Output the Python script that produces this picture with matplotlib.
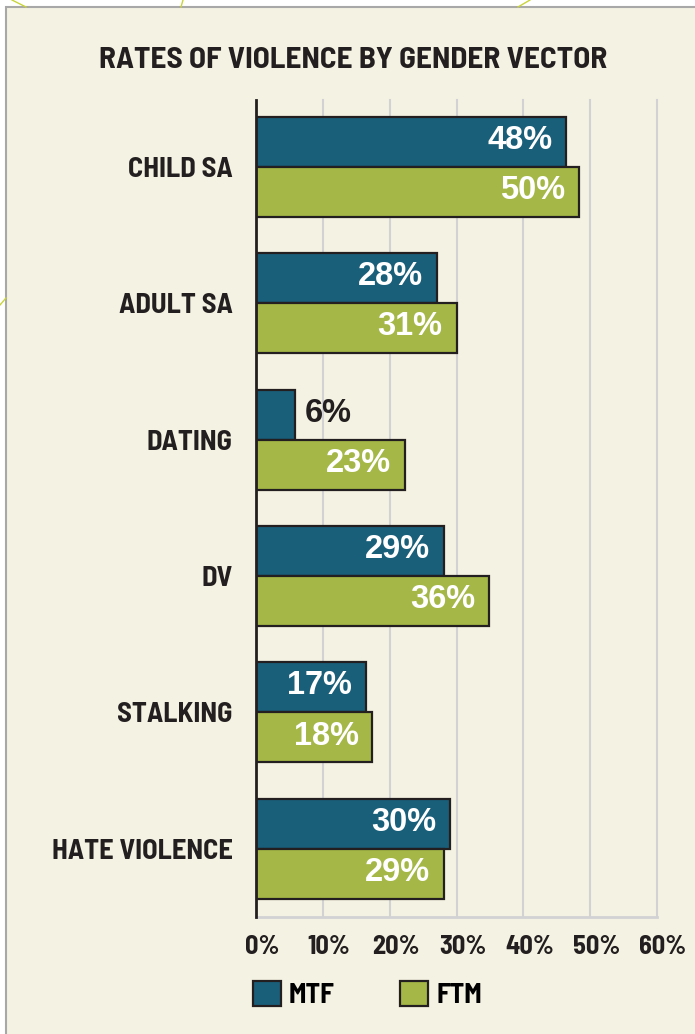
import numpy as np
import matplotlib.pyplot as plt
from matplotlib.patches import Rectangle
from matplotlib.lines import Line2D
from matplotlib.transforms import ScaledTranslation

categories = ['CHILD SA', 'ADULT SA', 'DATING', 'DV', 'STALKING', 'HATE VIOLENCE']
mtf = [48, 28, 6, 29, 17, 30]
ftm = [50, 31, 23, 36, 18, 29]
tick_labels = ['0%', '10%', '20%', '30%', '40%', '50%', '60%']

narrow = ['Barlow Semi Condensed', 'Barlow Condensed', 'DejaVu Sans']
wide = ['Liberation Sans', 'DejaVu Sans']

c_mtf = '#1a5f7a'
c_ftm = '#a5b847'
edge = '#231f20'
bg = '#f4f2e2'

fig = plt.figure(figsize=(6.95, 10.34), dpi=100)
fig.patch.set_facecolor('white')

# cream panel with grey border
fig.patches.append(Rectangle((6/695, -0.1), 1.2, 1 - 7/1034 + 0.1, transform=fig.transFigure,
                             facecolor=bg, edgecolor='#a8a8a8', linewidth=1.5, zorder=-2))
# little decorative green strokes outside the panel
for (x0, y0, x1, y1) in [(12, 0, 26, 7), (183, 0, 181, 7), (530, 0, 518, 7), (0, 305, 6, 298)]:
    fig.add_artist(Line2D([x0/695, x1/695], [1 - y0/1034, 1 - y1/1034], transform=fig.transFigure,
                          color='#c9d43c', linewidth=1.0, zorder=-1))

ax = fig.add_axes([256/695, 1 - 917/1034, 401/695, 817/1034])
ax.set_facecolor('none')

y = np.arange(len(categories))
h = 0.367
b1 = ax.barh(y - h/2, mtf, height=h, color=c_mtf, edgecolor=edge, linewidth=1.6, label='MTF', zorder=3)
b2 = ax.barh(y + h/2, ftm, height=h, color=c_ftm, edgecolor=edge, linewidth=1.6, label='FTM', zorder=3)

for bars, vals in [(b1, mtf), (b2, ftm)]:
    for bar, v in zip(bars, vals):
        yc = bar.get_y() + bar.get_height()/2
        if v < 10:
            ax.annotate(f'{v}%', (v, yc), xytext=(7, 1), textcoords='offset points',
                        ha='left', va='center', color=edge, fontsize=23.5, fontweight='bold',
                        family=wide, zorder=4)
        else:
            ax.annotate(f'{v}%', (v, yc), xytext=(-10, 1), textcoords='offset points',
                        ha='right', va='center', color='white', fontsize=23.5, fontweight='bold',
                        family=wide, zorder=4)

xmax = 62
ax.set_xlim(0, xmax)
ax.set_ylim(5.5, -0.49)
grid_pos = np.linspace(0, xmax, len(tick_labels))
for gx in grid_pos[1:]:
    ax.axvline(gx, color='#d2d2d4', linewidth=1.5, zorder=1, clip_on=False)

ax.set_xticks(grid_pos)
ax.set_xticklabels(tick_labels, family=narrow, fontsize=19, fontweight='bold', color=edge)
ax.tick_params(axis='x', length=0, pad=13)
for lab in ax.get_xticklabels():
    lab.set_transform(lab.get_transform() + ScaledTranslation(6/100, 0, fig.dpi_scale_trans))

ax.set_yticks(y)
ax.set_yticklabels(categories, family=narrow, fontsize=20.5, fontweight='bold', color=edge)
ax.tick_params(axis='y', length=0, pad=17)

ax.spines['top'].set_visible(False)
ax.spines['right'].set_visible(False)
ax.spines['left'].set_color(edge)
ax.spines['left'].set_linewidth(2.0)
ax.spines['left'].set_zorder(5)
ax.spines['bottom'].set_color('#d2d2d4')
ax.spines['bottom'].set_linewidth(2.0)

fig.text(353/695, 1 - 61/1034, 'RATES OF VIOLENCE BY GENDER VECTOR', ha='center', va='center',
         family=narrow, fontsize=22.5, fontweight='bold', color=edge)

ax.legend(handles=[b1, b2], labels=['MTF', 'FTM'], ncol=2, frameon=False,
          loc='upper left', bbox_to_anchor=(253/695, 1 - 981/1034), bbox_transform=fig.transFigure,
          borderaxespad=0, borderpad=0, handlelength=1.0, handleheight=1.0, handletextpad=0.3,
          columnspacing=2.35, prop={'family': narrow, 'size': 20, 'weight': 'bold'})

fig.savefig('out.png', dpi=100, facecolor=fig.get_facecolor())
